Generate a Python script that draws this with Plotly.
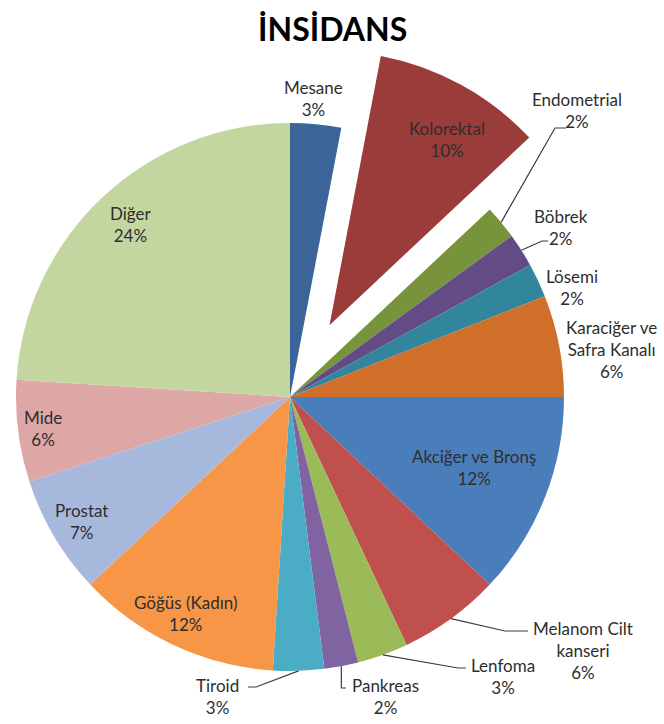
import math
import plotly.graph_objects as go

# Cancer incidence shares (%)
labels = ["Mesane", "Kolorektal", "Endometrial", "Böbrek", "Lösemi",
          "Karaciğer ve Safra Kanalı", "Akciğer ve Bronş", "Melanom Cilt kanseri",
          "Lenfoma", "Pankreas", "Tiroid", "Göğüs (Kadın)", "Prostat", "Mide", "Diğer"]
values = [3, 10, 2, 2, 2, 6, 12, 6, 3, 2, 3, 12, 7, 6, 24]
colors = ["#3b6498", "#9a3c3a", "#77933c", "#634c85", "#31859c",
          "#d06f2a", "#4a7ebb", "#c0504d", "#9bbb59", "#8064a2",
          "#4bacc6", "#f79646", "#a6b9dd", "#dca7a5", "#c4d69f"]
pulled = "Kolorektal"
title = "İNSİDANS"

# ---- layout geometry (pixels) ----
W, H = 664, 724
CX, CY, R = 290, 397, 274
PULL_PX = 82
FONT = "Lato"
TXT = "#2e2e2e"

wrap = {"Karaciğer ve Safra Kanalı": "Karaciğer ve<br>Safra Kanalı",
        "Melanom Cilt kanseri": "Melanom Cilt<br>kanseri"}

# label block centres (pixels)
label_xy = {
    "Mesane": (313, 98), "Kolorektal": (447, 139), "Endometrial": (577, 111),
    "Böbrek": (561, 227), "Lösemi": (572, 287), "Karaciğer ve Safra Kanalı": (611, 350),
    "Akciğer ve Bronş": (474, 467), "Melanom Cilt kanseri": (583, 650),
    "Lenfoma": (503, 676), "Pankreas": (385, 696), "Tiroid": (218, 696),
    "Göğüs (Kadın)": (185, 613), "Prostat": (81, 521), "Mide": (43, 428),
    "Diğer": (131, 225),
}
# leader-line elbow and end points (pixels); start is on the slice edge
leaders = {
    "Endometrial": [(555, 128), (566, 128)],
    "Böbrek": [(542, 241), (548, 241)],
    "Melanom Cilt kanseri": [(505, 631), (528, 631)],
    "Lenfoma": [(458, 668), (466, 668)],
    "Pankreas": [(None, 688), (346, 688)],
    "Tiroid": [(256, 687), (248, 687)],
}


def fx(x):
    return x / W


def fy(y):
    return 1 - y / H


total = sum(values)
mids, acc = [], 0
for v in values:
    mids.append((acc + v / 2) / total * 360)
    acc += v

k = labels.index(pulled)
ang = math.radians(mids[k])
dx, dy = PULL_PX * math.sin(ang), -PULL_PX * math.cos(ang)

main_colors = ["rgba(0,0,0,0)" if l == pulled else c for l, c in zip(labels, colors)]
pull_colors = [c if l == pulled else "rgba(0,0,0,0)" for l, c in zip(labels, colors)]

common = dict(labels=labels, values=values, sort=False, direction="clockwise",
              rotation=0, textinfo="none", hoverinfo="label+percent",
              showlegend=False)

fig = go.Figure()
fig.add_trace(go.Pie(
    **common,
    marker=dict(colors=main_colors, line=dict(width=0)),
    domain=dict(x=[fx(CX - R), fx(CX + R)], y=[fy(CY + R), fy(CY - R)]),
))
fig.add_trace(go.Pie(
    **common,
    marker=dict(colors=pull_colors, line=dict(width=0)),
    domain=dict(x=[fx(CX - R + dx), fx(CX + R + dx)],
                y=[fy(CY + R + dy), fy(CY - R + dy)]),
))

annotations = []
for name, v in zip(labels, values):
    x, y = label_xy[name]
    annotations.append(dict(
        text=f"{wrap.get(name, name)}<br>{v}%", x=fx(x), y=fy(y),
        xref="paper", yref="paper", xanchor="center", yanchor="middle",
        showarrow=False, align="center",
        font=dict(family=FONT, size=17, color=TXT),
    ))
annotations.append(dict(
    text=f"<b>{title}</b>", x=fx(332), y=fy(28), xref="paper", yref="paper",
    xanchor="center", yanchor="middle", showarrow=False,
    font=dict(family=FONT, size=32, color="#000000"),
))

shapes = []
for name, pts in leaders.items():
    i = labels.index(name)
    a = math.radians(mids[i])
    sx, sy = CX + R * math.sin(a), CY - R * math.cos(a)
    path = [(sx, sy)]
    for (x, y) in pts:
        path.append((sx if x is None else x, y))
    d = "M " + " L ".join(f"{fx(x):.5f},{fy(y):.5f}" for x, y in path)
    shapes.append(dict(type="path", path=d, xref="paper", yref="paper",
                       line=dict(color="#3c3c3c", width=1.2)))

fig.update_layout(
    width=W, height=H, margin=dict(l=0, r=0, t=0, b=0),
    paper_bgcolor="white", plot_bgcolor="white",
    annotations=annotations, shapes=shapes,
)

fig.write_html("out.html")
